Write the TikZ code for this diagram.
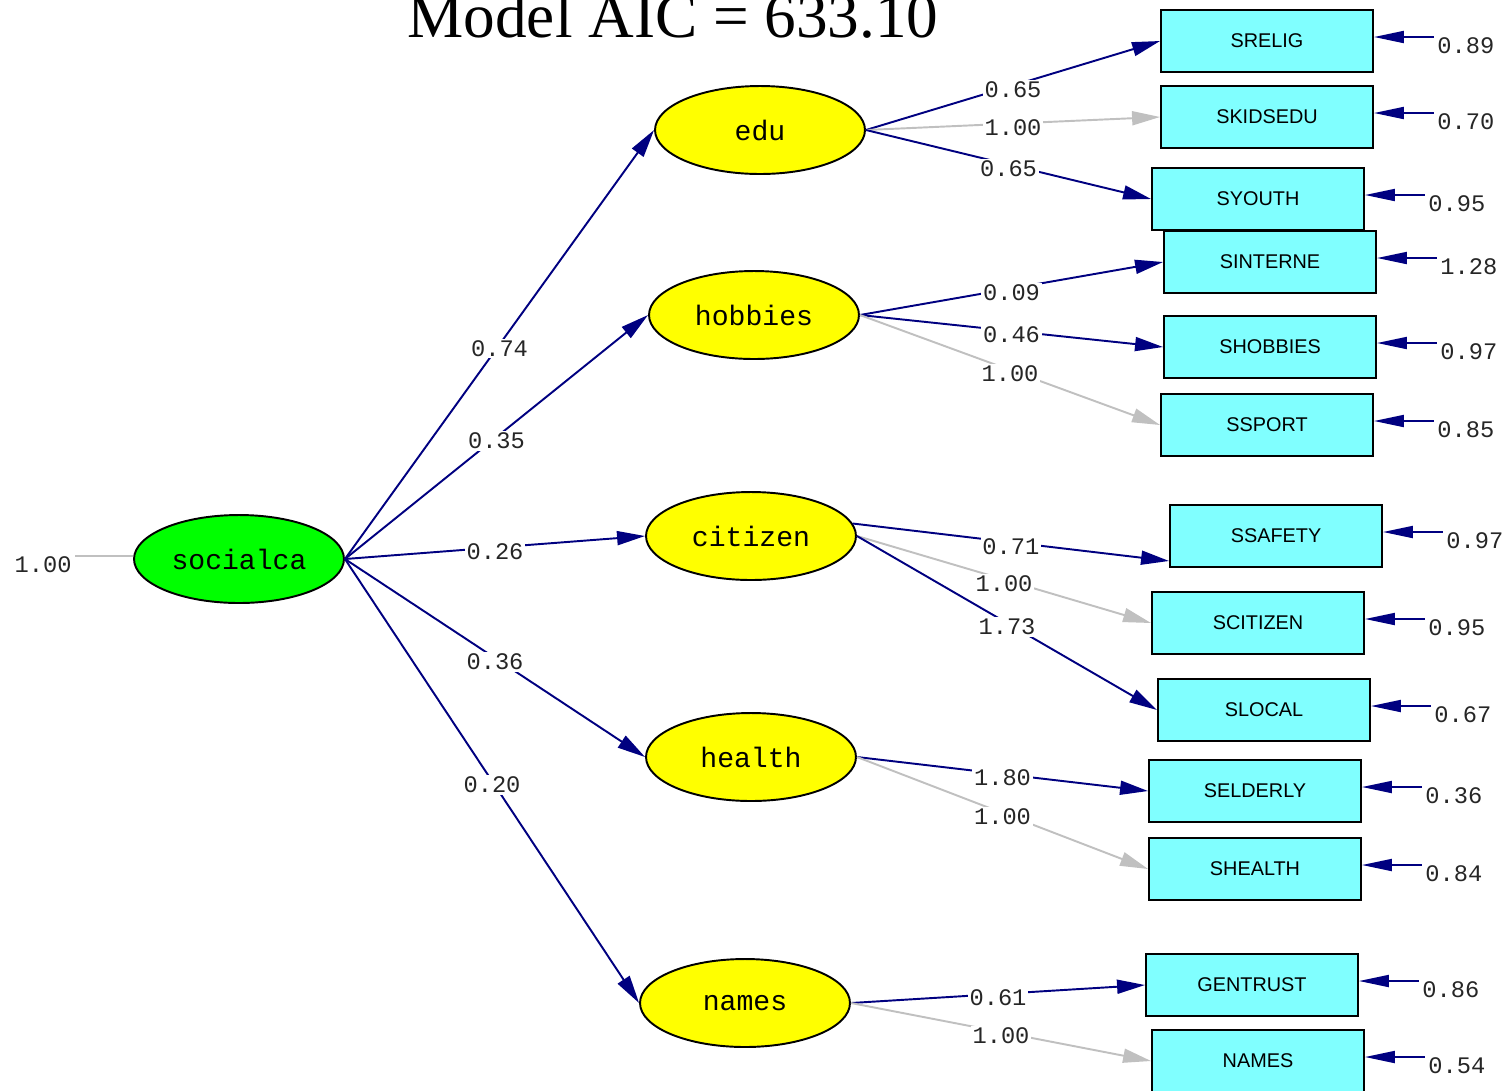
\documentclass[tikz,border=0pt]{standalone}
\usepackage{fontspec}
\setmainfont{Liberation Serif}
\newfontfamily\monofont{Liberation Mono}
\newfontfamily\boxfont{Liberation Sans}
\usetikzlibrary{shapes.geometric,arrows.meta,calc}
\definecolor{pathblue}{RGB}{0,0,128}
\definecolor{fixgray}{RGB}{192,192,192}
\definecolor{latgreen}{RGB}{0,255,0}
\definecolor{latyellow}{RGB}{255,255,0}
\definecolor{obscyan}{RGB}{128,255,255}
\tikzset{latent/.style={ellipse,draw,line width=1.1pt,minimum width=4.2cm,minimum height=1.76cm,inner sep=0pt,font=\monofont\fontsize{16}{18}\selectfont},
         observed/.style={rectangle,draw,line width=1.1pt,fill=obscyan,minimum width=4.24cm,minimum height=1.24cm,inner sep=0pt,font=\boxfont\fontsize{11.3}{13}\selectfont},
         load/.style={-{Triangle[length=0.56cm,width=0.28cm]},draw=pathblue,line width=1.1pt},
         fixload/.style={load,draw=fixgray},
         errarrow/.style={-{Triangle[length=0.6cm,width=0.24cm]},draw=pathblue,line width=1.1pt},
         coef/.style={midway,fill=white,inner sep=1pt,yshift=-0.08cm,text=black!85,font=\monofont\fontsize{13.5}{16}\selectfont},
         errlab/.style={anchor=north west,inner xsep=0.06cm,inner ysep=0pt,text=black!85,font=\monofont\fontsize{13.5}{16}\selectfont}
}

\begin{document}
\begin{tikzpicture}[x=0.02cm,y=-0.02cm]
  \useasboundingbox (0,0) rectangle (1508,1090);
  \node[anchor=base,font=\fontsize{36}{40}\selectfont] (title) at (673,37) {Model AIC = 633.10};

  % latent variables
  \node[latent,fill=latgreen] (socialca) at (239,559) {socialca};
  \node[latent,fill=latyellow] (edu) at (760,130) {edu};
  \node[latent,fill=latyellow] (hobbies) at (754,315) {hobbies};
  \node[latent,fill=latyellow] (citizen) at (751,536) {citizen};
  \node[latent,fill=latyellow] (health) at (751,757) {health};
  \node[latent,fill=latyellow] (names) at (745,1003) {names};

  % observed variables
  \node[observed] (srelig) at (1267,41) {SRELIG};
  \node[observed] (skidsedu) at (1267,117) {SKIDSEDU};
  \node[observed] (syouth) at (1258,199) {SYOUTH};
  \node[observed] (sinterne) at (1270,262) {SINTERNE};
  \node[observed] (shobbies) at (1270,347) {SHOBBIES};
  \node[observed] (ssport) at (1267,425) {SSPORT};
  \node[observed] (ssafety) at (1276,536) {SSAFETY};
  \node[observed] (scitizen) at (1258,623) {SCITIZEN};
  \node[observed] (slocal) at (1264,710) {SLOCAL};
  \node[observed] (selderly) at (1255,791) {SELDERLY};
  \node[observed] (shealth) at (1255,869) {SHEALTH};
  \node[observed] (gentrust) at (1252,985) {GENTRUST};
  \node[observed] (nameso) at (1258,1061) {NAMES};

  % variance of socialca
  \node[errlab,anchor=north east] (v0) at (75,556) {1.00};
  \draw[fixgray,line width=1.1pt] (v0.north east) -- (v0.north east -| socialca.west);

  \draw[load] (socialca.east) -- node[coef]{0.74} (edu.west);
  \draw[load] (socialca.east) -- node[coef]{0.35} (hobbies.west);
  \draw[load] (socialca.east) -- node[coef]{0.26} (citizen.west);
  \draw[load] (socialca.east) -- node[coef]{0.36} (health.west);
  \draw[load] (socialca.east) -- node[coef]{0.20} (names.west);

  \draw[load] (edu.east) -- node[coef]{0.65} (srelig.west);
  \draw[fixload] (edu.east) -- node[coef]{1.00} (skidsedu.west);
  \draw[load] (edu.east) -- node[coef]{0.65} (syouth.west);

  \draw[load] (hobbies.east) -- node[coef]{0.09} (sinterne.west);
  \draw[load] (hobbies.east) -- node[coef]{0.46} (shobbies.west);
  \draw[fixload] (hobbies.east) -- node[coef]{1.00} (ssport.west);

  \draw[load] (citizen.7) -- node[coef]{0.71} ([yshift=0.14cm]ssafety.south west);
  \draw[fixload] (citizen.east) -- node[coef]{1.00} (scitizen.west);
  \draw[load] (citizen.east) -- node[coef]{1.73} (slocal.west);

  \draw[load] (health.east) -- node[coef]{1.80} (selderly.west);
  \draw[fixload] (health.east) -- node[coef]{1.00} (shealth.west);

  \draw[load] (names.east) -- node[coef]{0.61} (gentrust.west);
  \draw[fixload] (names.east) -- node[coef]{1.00} (nameso.west);

  % error variances
  \node[errlab] (err1) at ($(srelig.east)+(60,-4)$) {0.89};
  \node[errlab] (err2) at ($(skidsedu.east)+(60,-4)$) {0.70};
  \node[errlab] (err3) at ($(syouth.east)+(60,-4)$) {0.95};
  \node[errlab] (err4) at ($(sinterne.east)+(60,-4)$) {1.28};
  \node[errlab] (err5) at ($(shobbies.east)+(60,-4)$) {0.97};
  \node[errlab] (err6) at ($(ssport.east)+(60,-4)$) {0.85};
  \node[errlab] (err7) at ($(ssafety.east)+(60,-4)$) {0.97};
  \node[errlab] (err8) at ($(scitizen.east)+(60,-4)$) {0.95};
  \node[errlab] (err9) at ($(slocal.east)+(60,-4)$) {0.67};
  \node[errlab] (err10) at ($(selderly.east)+(60,-4)$) {0.36};
  \node[errlab] (err11) at ($(shealth.east)+(60,-4)$) {0.84};
  \node[errlab] (err12) at ($(gentrust.east)+(60,-4)$) {0.86};
  \node[errlab] (err13) at ($(nameso.east)+(60,-4)$) {0.54};
  \draw[errarrow] (err1.north west) -- (err1.north west -| srelig.east);
  \draw[errarrow] (err2.north west) -- (err2.north west -| skidsedu.east);
  \draw[errarrow] (err3.north west) -- (err3.north west -| syouth.east);
  \draw[errarrow] (err4.north west) -- (err4.north west -| sinterne.east);
  \draw[errarrow] (err5.north west) -- (err5.north west -| shobbies.east);
  \draw[errarrow] (err6.north west) -- (err6.north west -| ssport.east);
  \draw[errarrow] (err7.north west) -- (err7.north west -| ssafety.east);
  \draw[errarrow] (err8.north west) -- (err8.north west -| scitizen.east);
  \draw[errarrow] (err9.north west) -- (err9.north west -| slocal.east);
  \draw[errarrow] (err10.north west) -- (err10.north west -| selderly.east);
  \draw[errarrow] (err11.north west) -- (err11.north west -| shealth.east);
  \draw[errarrow] (err12.north west) -- (err12.north west -| gentrust.east);
  \draw[errarrow] (err13.north west) -- (err13.north west -| nameso.east);
\end{tikzpicture}
\end{document}
